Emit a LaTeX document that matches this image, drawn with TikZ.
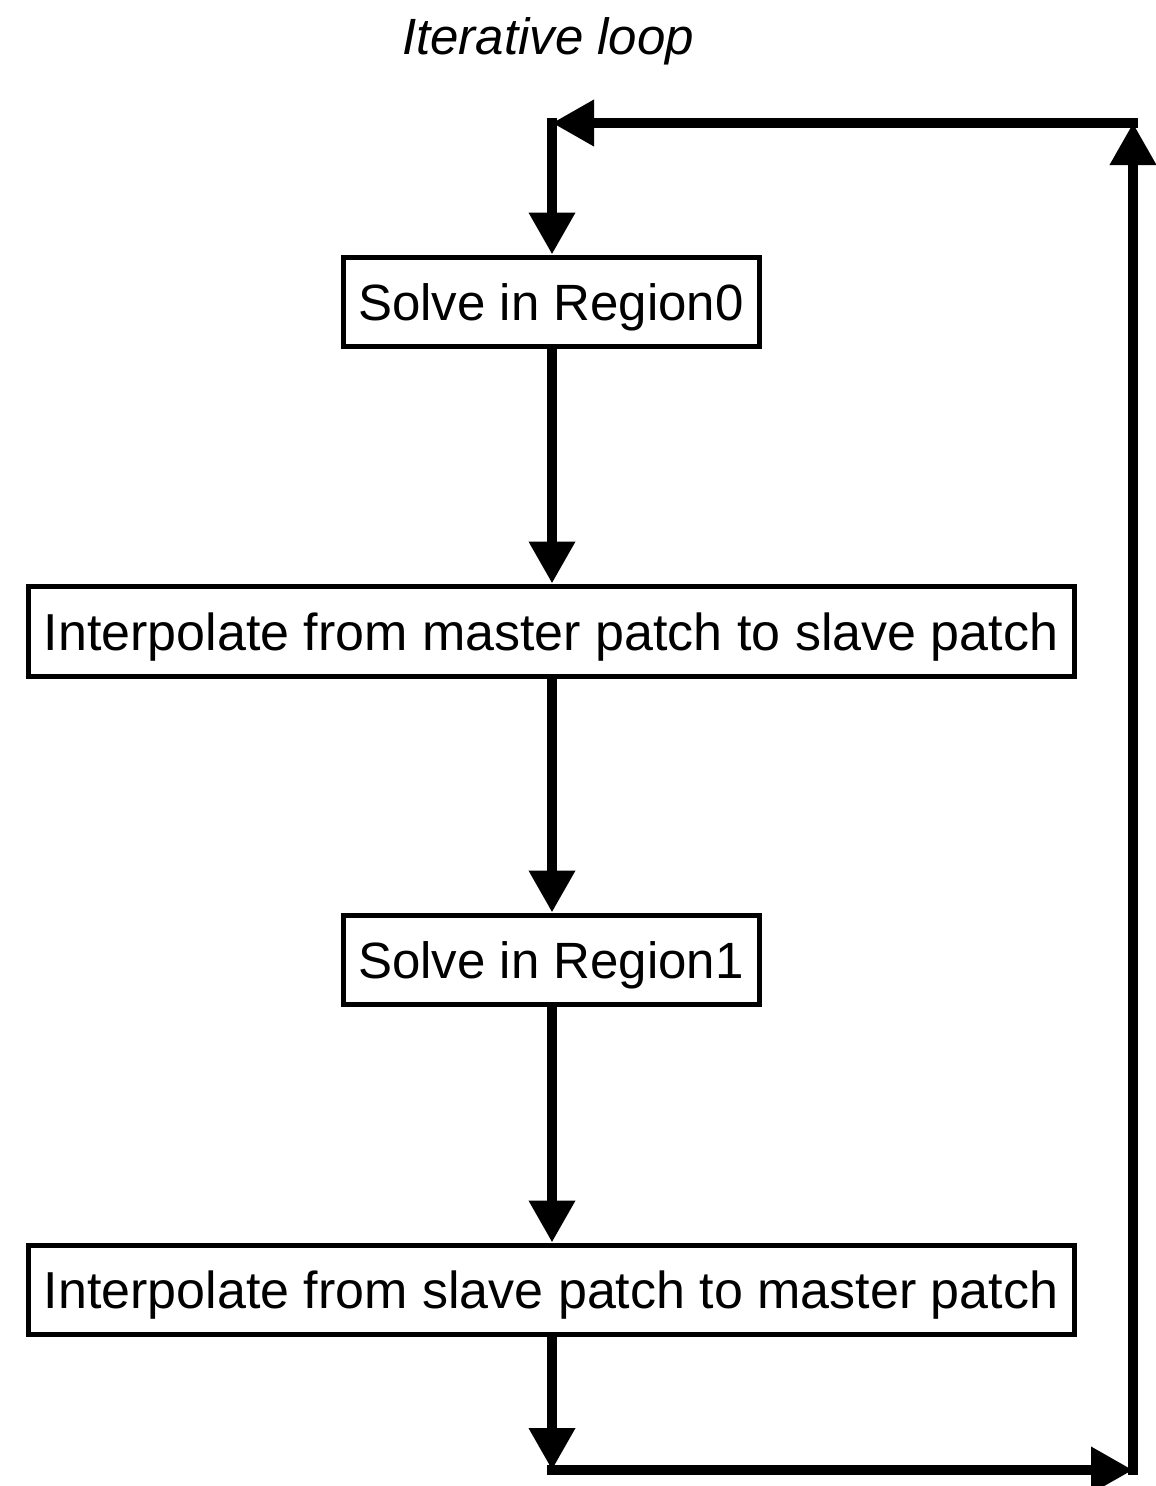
\documentclass[tikz,border=0pt]{standalone}
\usepackage{fontspec}
\setmainfont{Liberation Sans}
\usetikzlibrary{arrows.meta}
\begin{document}
\begin{tikzpicture}[x=1pt,y=-1pt,
  stepbox/.style={draw,line width=5pt,inner sep=0pt,
    text height=38pt,text depth=0pt,
    font=\fontsize{51}{61}\selectfont},
  widebox/.style={stepbox,font=\fontsize{52}{62}\selectfont},
  flow/.style={line width=10pt,line cap=rect,
    -{Triangle[length=42pt,width=44pt]}}]
  \useasboundingbox (0,0) rectangle (1156,1486);

  \node (title) at (548,41) {\fontsize{51}{61}\selectfont\itshape Iterative loop};

  \node[stepbox,minimum width=416pt,minimum height=89pt] (s0) at (551,301.5) {Solve in Region0};
  \node[widebox,minimum width=1046pt,minimum height=90pt] (i01) at (551,631) {Interpolate from master patch to slave patch};
  \node[stepbox,minimum width=416pt,minimum height=89pt] (s1) at (551,959.5) {Solve in Region1};
  \node[widebox,minimum width=1046pt,minimum height=89pt] (i10) at (551,1289.5) {Interpolate from slave patch to master patch};

  % loop-back corners
  \coordinate (bl) at (552,1470);
  \coordinate (br) at (1133,1470);
  \coordinate (tr) at (1133,123);
  \coordinate (tl) at (552,123);

  \draw[flow] (s0.south -| tl) -- (i01.north -| tl);
  \draw[flow] (i01.south -| tl) -- (s1.north -| tl);
  \draw[flow] (s1.south -| tl) -- (i10.north -| tl);
  \draw[flow] (i10.south -| tl) -- (bl);
  \draw[flow] (bl) -- (br);
  \draw[flow] (br) -- (tr);
  \draw[flow] (tr) -- (tl);
  \draw[flow] (tl) -- (s0.north -| tl);
\end{tikzpicture}
\end{document}
